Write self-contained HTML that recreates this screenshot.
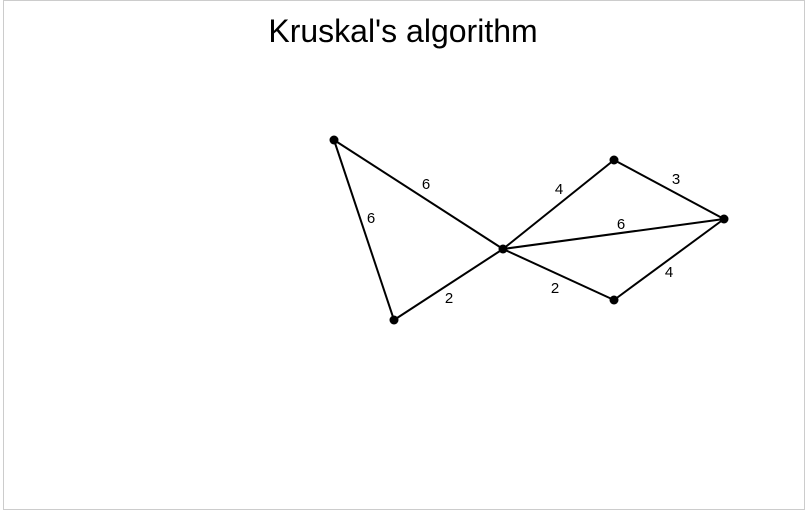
<!DOCTYPE html>
<html><head><style>
html,body{margin:0;padding:0;background:#fff;}
</style></head><body>
<svg width="807" height="515" xmlns="http://www.w3.org/2000/svg" style="display:block">
<rect x="3.5" y="0.5" width="801" height="509" fill="#fff" stroke="#cccccc" stroke-width="1"/>
<text x="403" y="42" font-family="Liberation Sans, sans-serif" font-size="32" text-anchor="middle" fill="#000">Kruskal's algorithm</text>
<g stroke="#000" stroke-width="2">
<line x1="334" y1="140" x2="503" y2="249"/>
<line x1="334" y1="140" x2="394" y2="320"/>
<line x1="394" y1="320" x2="503" y2="249"/>
<line x1="503" y1="249" x2="614" y2="160"/>
<line x1="503" y1="249" x2="724" y2="219"/>
<line x1="503" y1="249" x2="614" y2="300"/>
<line x1="614" y1="160" x2="724" y2="219"/>
<line x1="614" y1="300" x2="724" y2="219"/>
</g>
<g fill="#000">
<circle cx="334" cy="140" r="4.5"/>
<circle cx="394" cy="320" r="4.5"/>
<circle cx="503" cy="249" r="4.5"/>
<circle cx="614" cy="160" r="4.5"/>
<circle cx="614" cy="300" r="4.5"/>
<circle cx="724" cy="219" r="4.5"/>
</g>
<g font-family="Liberation Sans, sans-serif" font-size="15" text-anchor="middle" fill="#000">
<text x="426" y="189">6</text>
<text x="371" y="223">6</text>
<text x="449" y="303">2</text>
<text x="559" y="194">4</text>
<text x="676" y="184">3</text>
<text x="621" y="229">6</text>
<text x="555" y="293">2</text>
<text x="669" y="277">4</text>
</g>
</svg>
</body></html>
